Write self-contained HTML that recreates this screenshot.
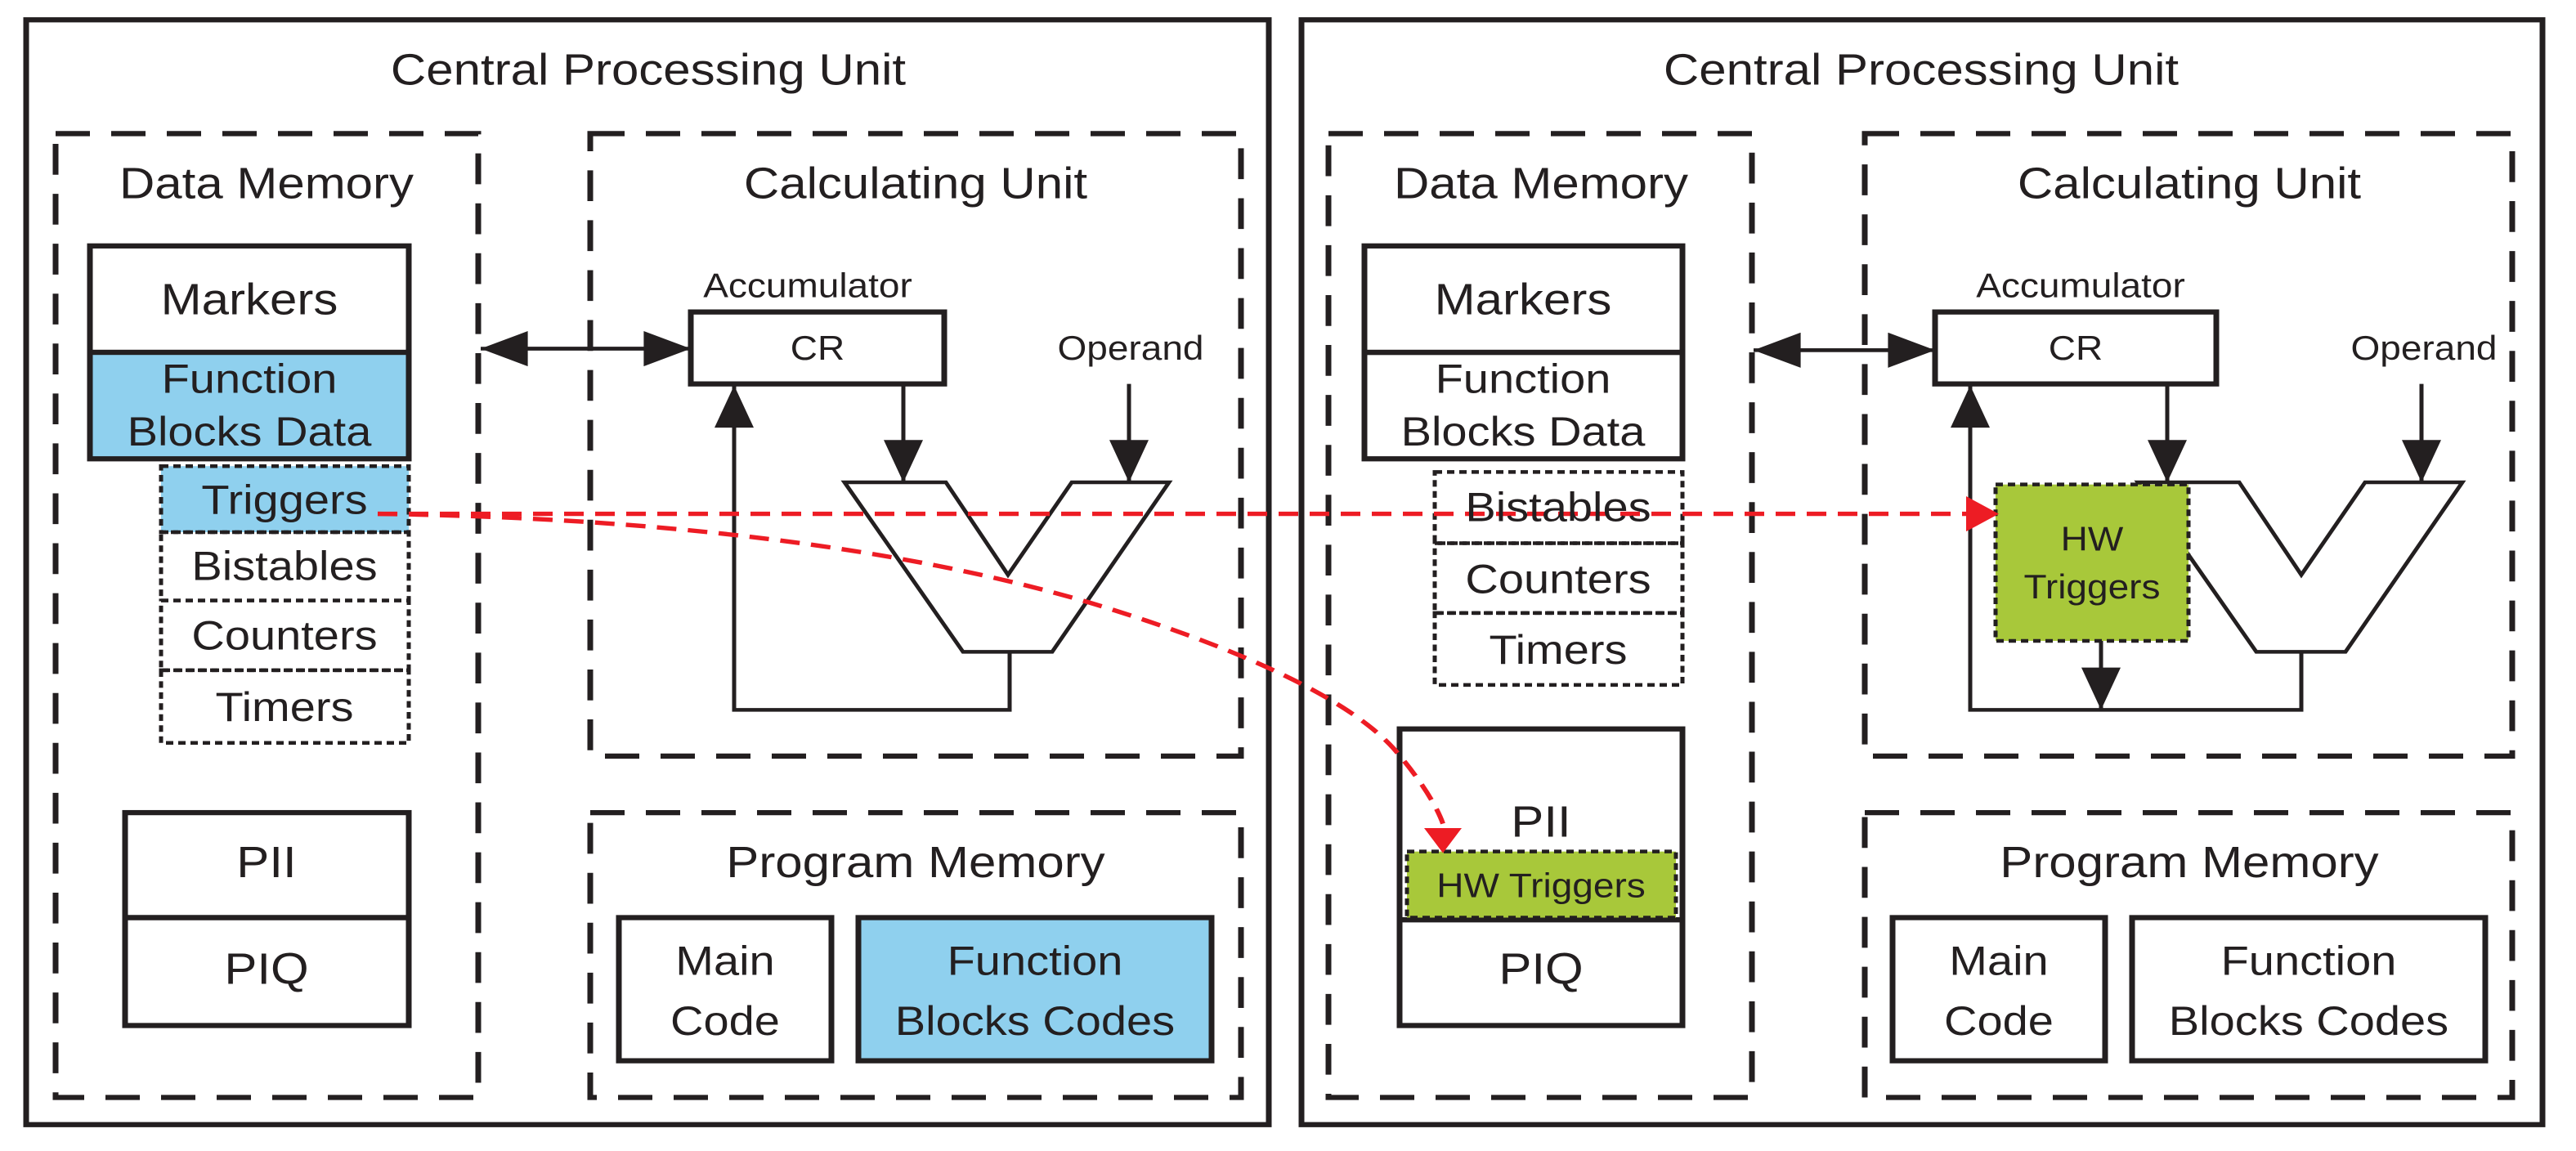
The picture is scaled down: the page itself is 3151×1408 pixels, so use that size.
<!DOCTYPE html>
<html><head><meta charset="utf-8"><style>html,body{margin:0;padding:0;background:#fff;overflow:hidden}svg{display:block}</style></head>
<body>
<svg width="3151" height="1408" viewBox="0 0 3151 1408" xmlns="http://www.w3.org/2000/svg" font-family="Liberation Sans, Arial, sans-serif" fill="#231f20">
<defs>
<marker id="ah" viewBox="0 0 12 10" refX="12" refY="5" markerWidth="58" markerHeight="48" markerUnits="userSpaceOnUse" orient="auto"><path d="M0,0L12,5L0,10z" fill="#231f20"/></marker>
</defs>
<g transform="scale(1,0.898)">
<g stroke="#231f20" fill="none">
<rect x="32" y="27" width="1520" height="1505" stroke-width="7"/>
<rect x="1592" y="27" width="1518" height="1505" stroke-width="7"/>
<g stroke-width="7" stroke-dasharray="42 26">
<rect x="68" y="182" width="517" height="1313"/>
<rect x="722" y="182" width="796" height="848"/>
<rect x="722" y="1107" width="796" height="388"/>
<rect x="1625" y="182" width="518" height="1313"/>
<rect x="2281" y="182" width="792" height="848"/>
<rect x="2281" y="1107" width="792" height="388"/>
</g>
<rect x="110" y="335" width="390" height="145" stroke-width="7" fill="#fff"/>
<rect x="110" y="480" width="390" height="145" stroke-width="7" fill="#8fd0ee"/>
<g stroke-width="5" stroke-dasharray="9 6">
<rect x="197" y="635" width="303" height="90" fill="#8fd0ee"/>
<rect x="197" y="725" width="303" height="93"/>
<rect x="197" y="818" width="303" height="95"/>
<rect x="197" y="913" width="303" height="99"/>
</g>
<rect x="153" y="1107" width="347" height="143" stroke-width="7"/>
<rect x="153" y="1250" width="347" height="147" stroke-width="7"/>
<rect x="757" y="1250" width="260" height="195" stroke-width="7"/>
<rect x="1050" y="1250" width="432" height="195" stroke-width="7" fill="#8fd0ee"/>
<rect x="845" y="425" width="310" height="98" stroke-width="7"/>
<polygon points="1033,657 1157,657 1233,783 1311,657 1430,657 1287,888 1178,888" stroke-width="5"/>
<line x1="1105" y1="523" x2="1105" y2="657" stroke-width="5" marker-end="url(#ah)"/>
<line x1="1381" y1="523" x2="1381" y2="657" stroke-width="5" marker-end="url(#ah)"/>
<polyline points="1235,888 1235,967 898,967 898,525" stroke-width="5" marker-end="url(#ah)"/>
<line x1="640" y1="475" x2="845" y2="475" stroke-width="5" marker-end="url(#ah)"/>
<line x1="790" y1="475" x2="588" y2="475" stroke-width="5" marker-end="url(#ah)"/>
<rect x="1669" y="335" width="389" height="145" stroke-width="7"/>
<rect x="1669" y="480" width="389" height="145" stroke-width="7"/>
<g stroke-width="5" stroke-dasharray="9 6">
<rect x="1755" y="643" width="303" height="97"/>
<rect x="1755" y="740" width="303" height="95"/>
<rect x="1755" y="835" width="303" height="98"/>
</g>
<rect x="1712" y="993" width="346" height="404" stroke-width="7"/>
<line x1="1712" y1="1253" x2="2058" y2="1253" stroke-width="7"/>
<rect x="1721" y="1160" width="329" height="90" stroke-width="5" stroke-dasharray="9 6" fill="#a8c83a"/>
<rect x="2315" y="1250" width="260" height="195" stroke-width="7"/>
<rect x="2608" y="1250" width="432" height="195" stroke-width="7"/>
<rect x="2367" y="425" width="344" height="98" stroke-width="7"/>
<polygon points="2615,657 2739,657 2815,783 2893,657 3012,657 2869,888 2760,888" stroke-width="5"/>
<line x1="2651" y1="523" x2="2651" y2="657" stroke-width="5" marker-end="url(#ah)"/>
<line x1="2962" y1="523" x2="2962" y2="657" stroke-width="5" marker-end="url(#ah)"/>
<polyline points="2815,888 2815,967 2410,967 2410,525" stroke-width="5" marker-end="url(#ah)"/>
<line x1="2570" y1="873" x2="2570" y2="967" stroke-width="5" marker-end="url(#ah)"/>
<line x1="2200" y1="477" x2="2367" y2="477" stroke-width="5" marker-end="url(#ah)"/>
<line x1="2310" y1="477" x2="2145" y2="477" stroke-width="5" marker-end="url(#ah)"/>
<rect x="2441" y="660" width="236" height="213" stroke-width="5" stroke-dasharray="9 6" fill="#a8c83a"/>
</g>
<g stroke="#ed1c24" stroke-width="6" fill="none" stroke-dasharray="24 14">
<path d="M462,700 L2405,700"/>
<path d="M462,700 C800,705 1100,745 1330,820 C1480,870 1640,940 1705,1020 C1740,1065 1758,1100 1765,1122"/>
</g>
<path d="M2445,700 L2405,676 L2405,724 Z" fill="#ed1c24"/>
<path d="M1765,1162 L1742,1128 L1788,1128 Z" fill="#ed1c24"/>
<g text-anchor="middle" font-size="60">
<text x="793" y="115">Central Processing Unit</text>
<text x="2350" y="115">Central Processing Unit</text>
<text x="326" y="270">Data Memory</text>
<text x="1120" y="270">Calculating Unit</text>
<text x="1120" y="1195">Program Memory</text>
<text x="1885" y="270">Data Memory</text>
<text x="2678" y="270">Calculating Unit</text>
<text x="2678" y="1195">Program Memory</text>
<text x="305" y="428">Markers</text>
<text x="1863" y="428">Markers</text>
<text x="326" y="1195">PII</text>
<text x="326" y="1340">PIQ</text>
<text x="1885" y="1140">PII</text>
<text x="1885" y="1340">PIQ</text>
<g font-size="56">
<text x="305" y="535">Function</text><text x="305" y="607">Blocks Data</text>
<text x="1863" y="535">Function</text><text x="1863" y="607">Blocks Data</text>
<text x="348" y="700">Triggers</text>
<text x="348" y="790">Bistables</text>
<text x="348" y="885">Counters</text>
<text x="348" y="982">Timers</text>
<text x="1906" y="710">Bistables</text>
<text x="1906" y="808">Counters</text>
<text x="1906" y="904">Timers</text>
<text x="887" y="1328">Main</text><text x="887" y="1410">Code</text>
<text x="1266" y="1328">Function</text><text x="1266" y="1410">Blocks Codes</text>
<text x="2445" y="1328">Main</text><text x="2445" y="1410">Code</text>
<text x="2824" y="1328">Function</text><text x="2824" y="1410">Blocks Codes</text>
</g>
<g font-size="46">
<text x="988" y="405">Accumulator</text>
<text x="1000" y="490">CR</text>
<text x="1383" y="490">Operand</text>
<text x="2545" y="405">Accumulator</text>
<text x="2539" y="490">CR</text>
<text x="2965" y="490">Operand</text>
<text x="2559" y="750">HW</text>
<text x="2559" y="815">Triggers</text>
<text x="1885" y="1222">HW Triggers</text>
</g>
</g>
</g>
</svg>
</body></html>
